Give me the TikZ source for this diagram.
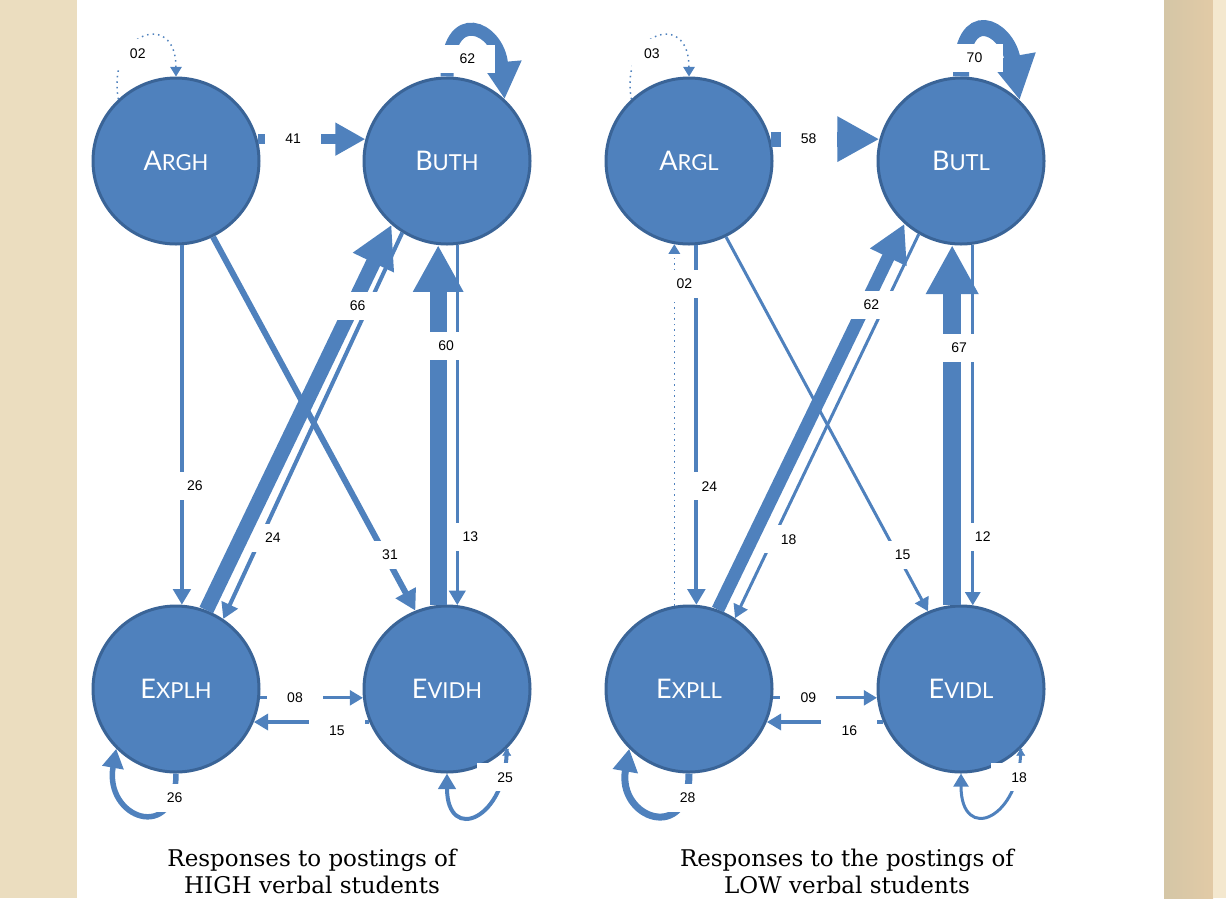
\documentclass[tikz,border=0pt]{standalone}
\usepackage{fontspec}
\setmainfont{DejaVu Serif}
\setsansfont{Liberation Sans}
\newfontfamily\statefont{Lato}
\usepackage{tikz}
\usetikzlibrary{positioning}
\usetikzlibrary{arrows.meta}
\definecolor{nodeblue}{HTML}{4F81BD}
\definecolor{rimblue}{HTML}{3A6497}
\definecolor{parchment}{HTML}{EBDDBF}
\definecolor{parchdark}{HTML}{D4C6A6}
\definecolor{parchlight}{HTML}{F4E8CF}
\newcommand{\statename}[2]{{\fontsize{27}{27}\selectfont #1}{\fontsize{22}{22}\selectfont #2}}
\tikzset{main node/.style={circle,fill=nodeblue,draw=rimblue,line width=3pt,minimum size=166pt,inner sep=0pt,text=white,font=\statefont},
	count label/.style={fill=white,text=black,font=\sffamily\fontsize{14}{14}\selectfont,minimum width=56pt,minimum height=28pt,inner sep=0pt},
	loop label/.style={count label,minimum width=40pt},
	rare/.style={line width=1.5pt,dash pattern=on 1.5pt off 4pt},
	caption/.style={align=center,inner sep=0pt,font=\fontsize{23}{27}\selectfont},}

\begin{document}
\begin{tikzpicture}[->, >={Triangle[length=6pt 2.4,width=8pt 2.3]}, x=1pt, y=1pt, on grid]
	\useasboundingbox (0,0) rectangle (1226,-898);
	% paper
	\fill[parchment,-] (0,0) rectangle (77,-898);
	\shade[left color=parchdark,right color=parchment!80!brown,-] (1164,0) rectangle (1213,-898);
	\fill[parchlight,-] (1213,0) rectangle (1226,-898);

	\node[main node] (argh) at (176,-161) {\statename{A}{RGH}};
	\node[main node] (buth) [right=271pt of argh] {\statename{B}{UTH}};
	\node[main node] (explh) [below=528pt of argh] {\statename{E}{XPLH}};
	\node[main node] (evidh) [right=271pt of explh] {\statename{E}{VIDH}};
	\node[main node] (argl) [right=242pt of buth] {\statename{A}{RGL}};
	\node[main node] (butl) [right=272pt of argl] {\statename{B}{UTL}};
	\node[main node] (expll) [below=528pt of argl] {\statename{E}{XPLL}};
	\node[main node] (evidl) [right=272pt of expll] {\statename{E}{VIDL}};

	% high verbal
	\path[draw,nodeblue]
	(argh.15) edge[line width=10pt] node[count label,pos=0.33] {41} (buth.165)
	(argh.133) edge[rare,out=100,in=90,looseness=2.8] node[loop label,pos=0.5,xshift=-5pt,yshift=-16pt] {02} (argh.90)
	(buth.90) edge[line width=13pt,out=90,in=95,looseness=3] node[count label,pos=0.5,xshift=-6pt,yshift=-25pt] {62} (buth.47)
	(argh.-86) edge[line width=4pt] node[count label,pos=0.67,xshift=13pt] {26} (explh.86)
	(argh.-64) edge[line width=6pt] node[count label,pos=0.85,xshift=5pt] {31} (evidh.112)
	(buth.-122) edge[line width=4pt] node[count label,pos=0.79,xshift=12pt] {24} (explh.56)
	(explh.69) edge[line width=15pt] node[count label,pos=0.79,xshift=5pt] {66} (buth.-131)
	(buth.-83) edge[line width=3.5pt] node[count label,pos=0.81,xshift=13pt] {13} (evidh.83)
	(evidh.96) edge[line width=17pt] node[count label,pos=0.72,xshift=8pt] {60} (buth.-96)
	(explh.-6) edge[line width=3pt] node[count label,pos=0.34] {08} (evidh.-174)
	(evidh.-157) edge[line width=3.5pt] node[count label,pos=0.28,yshift=-9pt] {15} (explh.-23)
	(explh.-90) edge[line width=5.5pt,out=-90,in=-100,looseness=2.8] node[count label,pos=0.2,xshift=6pt,yshift=7pt] {26} (explh.-135)
	(evidh.-45) edge[line width=4pt,out=-90,in=-90,looseness=2.8] node[count label,pos=0.15,xshift=2pt] {25} (evidh.-90);

	% low verbal
	\path[draw,nodeblue]
	(argl.15) edge[line width=15pt] node[count label,pos=0.35] {58} (butl.165)
	(argl.133) edge[rare,out=100,in=90,looseness=2.8] node[loop label,pos=0.5,xshift=-4pt,yshift=-16pt] {03} (argl.90)
	(butl.90) edge[line width=16pt,out=90,in=100,looseness=3] node[count label,pos=0.5,xshift=-11pt,yshift=-25pt] {70} (butl.46)
	(argl.-85) edge[line width=4pt] node[count label,pos=0.67,xshift=13pt] {24} (expll.85)
	(expll.100) edge[rare] node[count label,pos=0.89,xshift=10pt] {02} (argl.-100)
	(argl.-64) edge[line width=3pt] node[count label,pos=0.85,xshift=5pt] {15} (evidl.113)
	(butl.-120) edge[line width=3pt] node[count label,pos=0.795,xshift=16pt] {18} (expll.57)
	(expll.70) edge[line width=13pt] node[count label,pos=0.79,xshift=6pt] {62} (butl.-132)
	(butl.-82) edge[line width=3pt] node[count label,pos=0.81,xshift=10pt] {12} (evidl.82)
	(evidl.96) edge[line width=18pt] node[count label,pos=0.715,xshift=7pt] {67} (butl.-96)
	(expll.-6) edge[line width=3pt] node[count label,pos=0.34] {09} (evidl.-174)
	(evidl.-157) edge[line width=3.5pt] node[count label,pos=0.29,yshift=-9pt] {16} (expll.-23)
	(expll.-90) edge[line width=7pt,out=-90,in=-100,looseness=2.8] node[count label,pos=0.2,xshift=6pt,yshift=7pt] {28} (expll.-135)
	(evidl.-45) edge[line width=3pt,out=-90,in=-90,looseness=2.8] node[count label,pos=0.15,xshift=2pt] {18} (evidl.-90);

	\node[caption] (caphigh) at (312,-871) {Responses to postings of\\HIGH verbal students};
	\node[caption] (caplow) at (847,-871) {Responses to the postings of\\LOW verbal students};
\end{tikzpicture}
\end{document}
